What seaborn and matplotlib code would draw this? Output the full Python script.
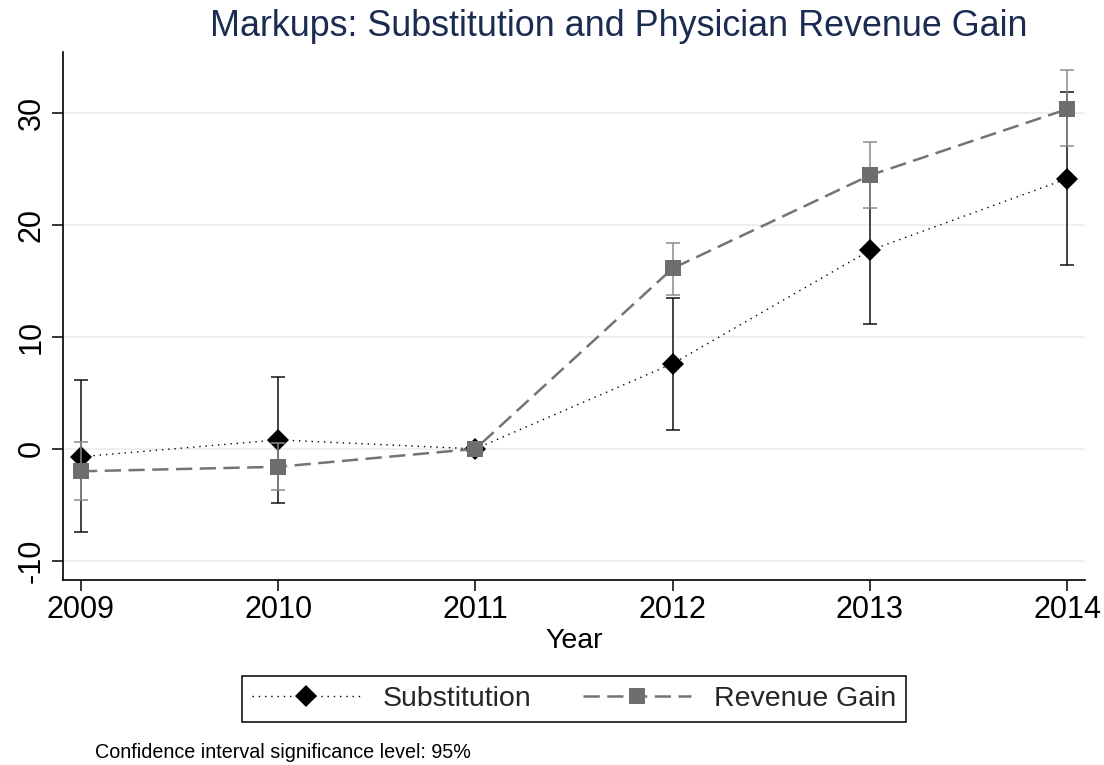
import numpy as np
import pandas as pd
import matplotlib
matplotlib.use("Agg")
import matplotlib.pyplot as plt
import seaborn as sns

# Data
years = [2009, 2010, 2011, 2012, 2013, 2014]

subst = [-0.7, 0.8, 0.0, 7.6, 17.7, 24.1]
subst_lo = [-7.4, -4.8, 0.0, 1.7, 11.1, 16.4]
subst_hi = [6.1, 6.4, 0.0, 13.5, 24.4, 31.8]

revenue = [-2.0, -1.6, 0.0, 16.1, 24.4, 30.3]
revenue_lo = [-4.6, -3.7, 0.0, 13.7, 21.5, 27.0]
revenue_hi = [0.6, 0.5, 0.0, 18.4, 27.4, 33.8]

df = pd.DataFrame({"year": years, "subst": subst, "revenue": revenue})

sns.set_style("white")
plt.rcParams["font.family"] = ["Liberation Sans", "DejaVu Sans"]

fig = plt.figure(figsize=(11.04, 7.65), dpi=100)
ax = fig.add_axes([0.0571, 0.2418, 0.9257, 0.6902])

grid_col = "#eaf1f2"
for v in [-10, 0, 10, 20, 30]:
    ax.axhline(v, color=grid_col, lw=1.5, zorder=0)

# Substitution (drawn first)
ax.errorbar(years, subst, yerr=[np.array(subst) - np.array(subst_lo), np.array(subst_hi) - np.array(subst)],
            fmt="none", ecolor="#111111", elinewidth=1.1, capsize=5, capthick=1.1, zorder=2)
sns.lineplot(data=df, x="year", y="subst", ax=ax, color="black", lw=1,
             linestyle=(0, (1, 3.5)), marker="D", markersize=11, markeredgewidth=0,
             markerfacecolor="black", label="Substitution", zorder=3)

# Revenue gain
ax.errorbar(years, revenue, yerr=[np.array(revenue) - np.array(revenue_lo), np.array(revenue_hi) - np.array(revenue)],
            fmt="none", ecolor="#8a8a8a", elinewidth=1.1, capsize=5, capthick=1.1, zorder=4)
sns.lineplot(data=df, x="year", y="revenue", ax=ax, color="#747474", lw=1.8,
             linestyle=(0, (6.5, 3)), marker="s", markersize=12, markeredgewidth=0,
             markerfacecolor="#6e6e6e", label="Revenue Gain", zorder=5)

ax.set_xlim(2008.909, 2014.091)
ax.set_ylim(-11.7, 35.4)
ax.set_xticks(years)
ax.set_yticks([-10, 0, 10, 20, 30])
ax.set_xticklabels([str(y) for y in years])
ax.set_yticklabels(["-10", "0", "10", "20", "30"], rotation=90, va="center")

for s in ["top", "right"]:
    ax.spines[s].set_visible(False)
for s in ["left", "bottom"]:
    ax.spines[s].set_color("black")
    ax.spines[s].set_linewidth(1.2)

ax.tick_params(axis="both", which="major", direction="out", length=8, width=1.1,
               color="black", labelsize=22, labelcolor="black", pad=3,
               left=True, bottom=True)
ax.tick_params(axis="y", pad=4)

ax.set_xlabel("Year", fontsize=20.5, labelpad=2, color="black")
ax.set_ylabel("")

# title sits a bit right of the axes centre in the original
fig.text(619 / 1104, 1 - 26 / 765, "Markups: Substitution and Physician Revenue Gain",
         fontsize=25.8, color="#1c2b52", ha="center", va="center")

handles, labels = ax.get_legend_handles_labels()
leg = fig.legend(handles, labels, loc="center", bbox_to_anchor=(0.52, 0.0863), ncol=2,
                 fontsize=20.5, frameon=True, fancybox=False, edgecolor="black",
                 handlelength=3.8, handletextpad=0.8, columnspacing=1.8,
                 borderpad=0.35, framealpha=1)
leg.get_frame().set_linewidth(1.1)
if ax.get_legend():
    ax.get_legend().remove()

fig.text(95 / 1104, 1 - 752 / 765, "Confidence interval significance level: 95%",
         fontsize=14.2, ha="left", va="center", color="black")

fig.savefig("out.png", dpi=100)
